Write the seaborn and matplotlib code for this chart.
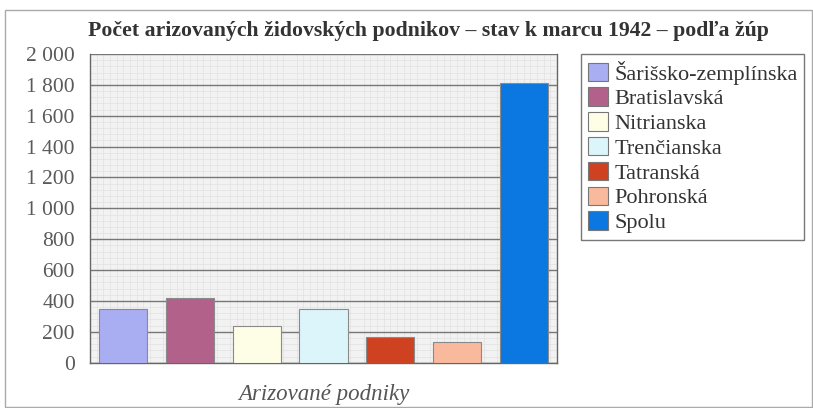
import pandas as pd
import numpy as np
from matplotlib import pyplot as plt
from matplotlib.patches import Rectangle
import seaborn as sns

zupy = ["Šarišsko-zemplínska", "Bratislavská", "Nitrianska", "Trenčianska",
        "Tatranská", "Pohronská", "Spolu"]
podniky = [346, 417, 240, 346, 165, 132, 1815]
farby = ["#a9adf2", "#b2628a", "#fefde6", "#dcf5fb", "#cf4221", "#f8b99d", "#0a78e0"]

df = pd.DataFrame({"zupa": zupy, "pocet": podniky})

sns.set_style("white")
plt.rcParams["font.family"] = ["Liberation Serif", "DejaVu Serif"]

fig = plt.figure(figsize=(8.13, 4.08), dpi=100)
ax = fig.add_axes([0.1107, 0.111, 0.5744, 0.7566])

ax.set_facecolor("#f2f2f2")
sns.barplot(data=df, x="zupa", y="pocet", hue="zupa", palette=farby,
            saturation=1, width=0.72, edgecolor="#8a8a8a", linewidth=0.8,
            legend=False, ax=ax, zorder=3)

ax.set_ylim(0, 2000)
ax.set_xlim(-0.5, len(zupy) - 0.5)
ticks = np.arange(0, 2001, 200)
ax.set_yticks(ticks)
ax.set_yticklabels([f"{t:,}".replace(",", " ") for t in ticks],
                   fontsize=15.5, color="#5a5a5a")
ax.yaxis.grid(True, color="#777777", linewidth=1.0, zorder=1)
ax.minorticks_on()
ax.set_xticks(np.arange(0.5, len(zupy) - 1, 1), minor=False)
ax.set_xticklabels([])
ax.tick_params(axis="x", which="major", direction="in", length=5, color="#555555")
ax.tick_params(axis="y", which="major", direction="out", length=9, pad=2,
               color="#555555")
ax.set_xticks(np.arange(-0.5, len(zupy) - 0.5, 0.1), minor=True)
ax.set_yticks(np.arange(0, 2001, 40), minor=True)
ax.tick_params(which="minor", length=0)
ax.grid(True, which="minor", color="#e2e2e2", linewidth=0.5, zorder=0)
ax.set_axisbelow(True)
for s in ["left", "right", "bottom"]:
    ax.spines[s].set_color("#666666")
    ax.spines[s].set_linewidth(1.0)
ax.spines["top"].set_visible(False)

ax.set_xlabel("Arizované podniky", fontsize=16.5, style="italic", color="#555555",
              labelpad=12)
ax.set_ylabel("")

fig.text(0.527, 0.925, "Počet arizovaných židovských podnikov – stav k marcu 1942 – podľa žúp",
         ha="center", va="center", fontsize=15.7, fontweight="bold", color="#333333")

handles = [Rectangle((0, 0), 1, 1, facecolor=c, edgecolor="#777777", linewidth=0.8)
           for c in farby]
leg = fig.legend(handles, zupy, loc="upper left", bbox_to_anchor=(0.7146, 0.868),
                 frameon=True, fancybox=False, fontsize=16, handlelength=0.9,
                 handleheight=0.9, handletextpad=0.3, labelspacing=0.13,
                 borderpad=0.3, borderaxespad=0)
leg.get_frame().set_edgecolor("#555555")
leg.get_frame().set_linewidth(1.0)
for t in leg.get_texts():
    t.set_color("#333333")

fig.patches.append(Rectangle((0.006, 0.003), 0.993, 0.972, transform=fig.transFigure,
                             fill=False, edgecolor="#aaaaaa", linewidth=1.0))

plt.savefig("out.png", dpi=100)
